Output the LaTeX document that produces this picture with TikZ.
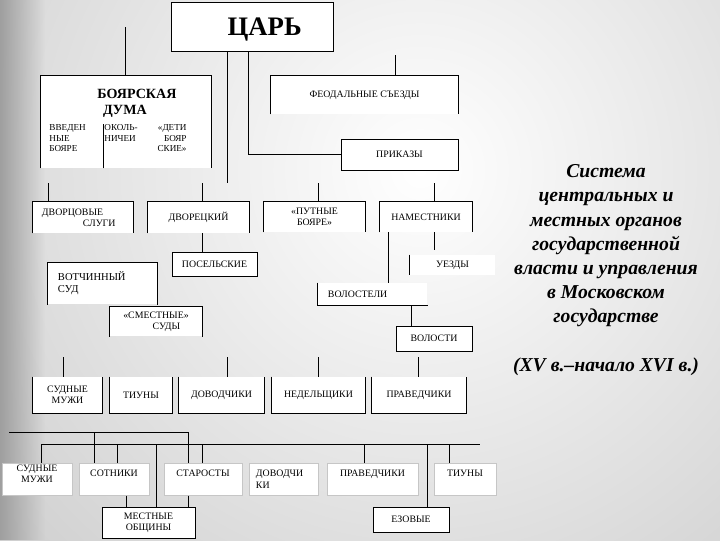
\documentclass[tikz,border=0pt]{standalone}
\usepackage{fontspec}
\setmainfont{Liberation Serif}
\usetikzlibrary{fadings}

\begin{document}
\begin{tikzpicture}[
	x=0.025cm, y=-0.025cm, % one unit = one pixel of the 720x540 sheet
	line width=0.7pt,
	% Box placed by its corners: left/top/right/bottom
	boxat/.style args={#1/#2/#3/#4}{
		at={({(#1+#3)/2},{(#2+#4)/2})},
		minimum width={(#3-#1)*0.025cm},
		minimum height={(#4-#2)*0.025cm}
	},
	% Style for boxes
	box/.style={
		rectangle,
		draw=black,
		fill=white,
		inner sep=0pt,
		align=center,
		font=\fontsize{7}{8}\selectfont
	},
	% Specific box styles
	tsarbox/.style={box, text depth=0pt, font=\bfseries\fontsize{19}{22}\selectfont},
	openbox/.style={box, draw=none},          % top and sides drawn later
	cupbox/.style={box, draw=none},           % sides and bottom drawn later
	lowbox/.style={box, draw=gray!45, text depth=7.5pt}, % bottom row
	% Style for loose texts
	smalltext/.style={inner sep=0pt, font=\fontsize{6.5}{7.5}\selectfont},
	dumatext/.style={inner sep=0pt, align=left, font=\bfseries\fontsize{10}{11.5}\selectfont},
	title/.style={align=center, font=\bfseries\itshape\fontsize{14}{17.2}\selectfont},
	% Connector style
	link/.style={draw=black, line width=0.7pt}
	]
	
	% --- BACKGROUND ---
	\begin{scope}
		\clip (0,0) rectangle (720,540);
		\shade[inner color=white, outer color=gray!60] (420,170) circle (900);
		\fill[gray!75, path fading=east] (0,0) rectangle (45,540);
	\end{scope}
	\useasboundingbox (0,0) rectangle (720,540);
	
	% --- TSAR AND CENTRAL ORGANS ---
	\node[tsarbox, boxat=171/2/333/51] (tsar) {\hspace*{18pt}ЦАРЬ};
	
	% Boyar duma
	\node[openbox, boxat=41/76/211/168] (duma) {};
	\node[dumatext, anchor=north west] (dumaT) at (97,89) {БОЯРСКАЯ\\\hspace*{4pt}ДУМА};
	\node[smalltext, align=left, anchor=north west] (vved) at (49,124) {ВВЕДЕН\\НЫЕ\\БОЯРЕ};
	\node[smalltext, align=left, anchor=north west] (okol) at (104,124) {ОКОЛЬ-\\НИЧЕИ};
	\node[smalltext, align=right, anchor=north east] (deti) at (187,124) {«ДЕТИ\\БОЯР\\СКИЕ»};
	
	\node[openbox, boxat=271/76/458/114] (feud) {ФЕОДАЛЬНЫЕ СЪЕЗДЫ};
	\node[box, boxat=341/139/458/170] (prikazy) {ПРИКАЗЫ};
	
	% --- SECOND TIER ---
	\node[openbox, boxat=33/202/133/233, align=left, text width=2.05cm] (slugi) {ДВОРЦОВЫЕ\\\hspace*{29pt}СЛУГИ};
	\node[openbox, boxat=148/202/249/233] (dvor) {ДВОРЕЦКИЙ};
	\node[openbox, boxat=264/202/365/232] (puty) {«ПУТНЫЕ\\БОЯРЕ»};
	\node[openbox, boxat=380/202/472/232] (namest) {НАМЕСТНИКИ};
	
	% --- LOCAL ORGANS ---
	\node[box, boxat=172/252/257/276] (posel) {ПОСЕЛЬСКИЕ};
	\node[openbox, boxat=48/263/157/304, align=left, text width=2.225cm, font=\fontsize{7.5}{8.5}\selectfont] (votch) {ВОТЧИННЫЙ\\СУД};
	\node[openbox, boxat=110/307/202/336, align=right] (smesn) {«СМЕСТНЫЕ»\\СУДЫ\hspace*{6pt}};
	\node[box, draw=none, boxat=410/255/495/275] (uezdy) {УЕЗДЫ};
	\node[box, draw=none, boxat=318/283/427/305, align=left, text width=2.225cm] (volostel) {ВОЛОСТЕЛИ};
	\node[box, boxat=396/326/472/351] (volosti) {ВОЛОСТИ};
	
	% --- FOURTH TIER ---
	\node[cupbox, boxat=33/377/102/413] (sud1) {СУДНЫЕ\\МУЖИ};
	\node[cupbox, boxat=110/377/172/413] (tiun1) {ТИУНЫ};
	\node[cupbox, boxat=179/377/264/413] (dovod1) {ДОВОДЧИКИ};
	\node[cupbox, boxat=272/377/365/413] (nedel) {НЕДЕЛЬЩИКИ};
	\node[cupbox, boxat=372/377/466/413] (praved1) {ПРАВЕДЧИКИ};
	
	% --- BOTTOM TIER ---
	\node[lowbox, boxat=2/463/72/495] (sud2) {СУДНЫЕ\\МУЖИ};
	\node[lowbox, boxat=79/463/149/495] (sotn) {СОТНИКИ};
	\node[lowbox, boxat=164/463/242/495] (star) {СТАРОСТЫ};
	\node[lowbox, boxat=249/463/318/495, align=left, text width=1.375cm] (dovod2) {ДОВОДЧИ\\КИ};
	\node[lowbox, boxat=327/463/418/495] (praved2) {ПРАВЕДЧИКИ};
	\node[lowbox, boxat=434/463/496/495] (tiun2) {ТИУНЫ};
	\node[box, boxat=102/507/195/538] (mestn) {МЕСТНЫЕ\\ОБЩИНЫ};
	\node[box, boxat=373/507/449/532] (ezov) {ЕЗОВЫЕ};
	
	% --- BOX EDGES ---
	\foreach \n in {duma, feud, slugi, dvor, puty, namest, votch, smesn}
		\draw[link] (\n.south west) |- (\n.north east) -- (\n.south east);
	\foreach \n in {sud1, tiun1, dovod1, nedel, praved1}
		\draw[link] (\n.north west) |- (\n.south east) -- (\n.north east);
	\draw[link] (uezdy.north west) -- (uezdy.south west);
	\draw[link] (volostel.north west) |- (volostel.south east);
	\draw[link] (103,0 |- duma.south) -- (103,0 |- okol.north);
	
	% --- CONNECTIONS ---
	\coordinate (dumaIn) at (125,27);
	\coordinate (feudIn) at (395,55);
	\coordinate (tsarOut) at (227,183);
	\coordinate (prikIn) at (248,0);
	\draw[link] (dumaIn) -- (dumaIn |- duma.north);
	\draw[link] (feudIn) -- (feudIn |- feud.north);
	\draw[link] (tsarOut |- tsar.south) -- (tsarOut);
	\draw[link] (prikIn |- tsar.south) |- (prikazy.west);
	
	% Second tier
	\coordinate (tier2) at (0,183);
	\foreach \n/\x in {slugi/48, dvor/202, puty/318, namest/434}
		\draw[link] (\x,0 |- tier2) -- (\x,0 |- \n.north);
	\draw[link] (202,0 |- dvor.south) -- (202,0 |- posel.north);
	\coordinate (uezdIn) at (434,250);
	\draw[link] (uezdIn |- namest.south) -- (uezdIn);
	\draw[link] (388,0 |- namest.south) -- (388,0 |- volostel.north);
	\draw[link] (411,0 |- volostel.south) -- (411,0 |- volosti.north);
	
	% Fourth tier
	\coordinate (tier4) at (0,357);
	\foreach \n/\x in {sud1/63, dovod1/227, nedel/318, praved1/418}
		\draw[link] (\x,0 |- tier4) -- (\x,0 |- \n.north);
	
	% Bottom tier buses
	\coordinate (busA) at (9,432);
	\coordinate (busAend) at (188,432);
	\coordinate (busB) at (41,444);
	\coordinate (busBend) at (480,444);
	\draw[link] (busA) -- (busAend);
	\draw[link] (busB) -- (busBend);
	\foreach \n/\x in {sotn/94, star/188}
		\draw[link] (\x,0 |- busA) -- (\x,0 |- \n.north);
	\foreach \n/\x in {sud2/41, sotn/117, mestn/156, star/202, praved2/364, ezov/427, tiun2/449}
		\draw[link] (\x,0 |- busB) -- (\x,0 |- \n.north);
	\foreach \n/\x in {sotn/126, star/188}
		\draw[link] (\x,0 |- \n.south) -- (\x,0 |- mestn.north);
	
	% --- TITLE ---
	\node[title] (title) at (606,270) {Система\\центральных и\\местных органов\\государственной\\власти и управления\\в Московском\\государстве\\[17.2pt](XV в.–начало XVI в.)};
	
\end{tikzpicture}
\end{document}
